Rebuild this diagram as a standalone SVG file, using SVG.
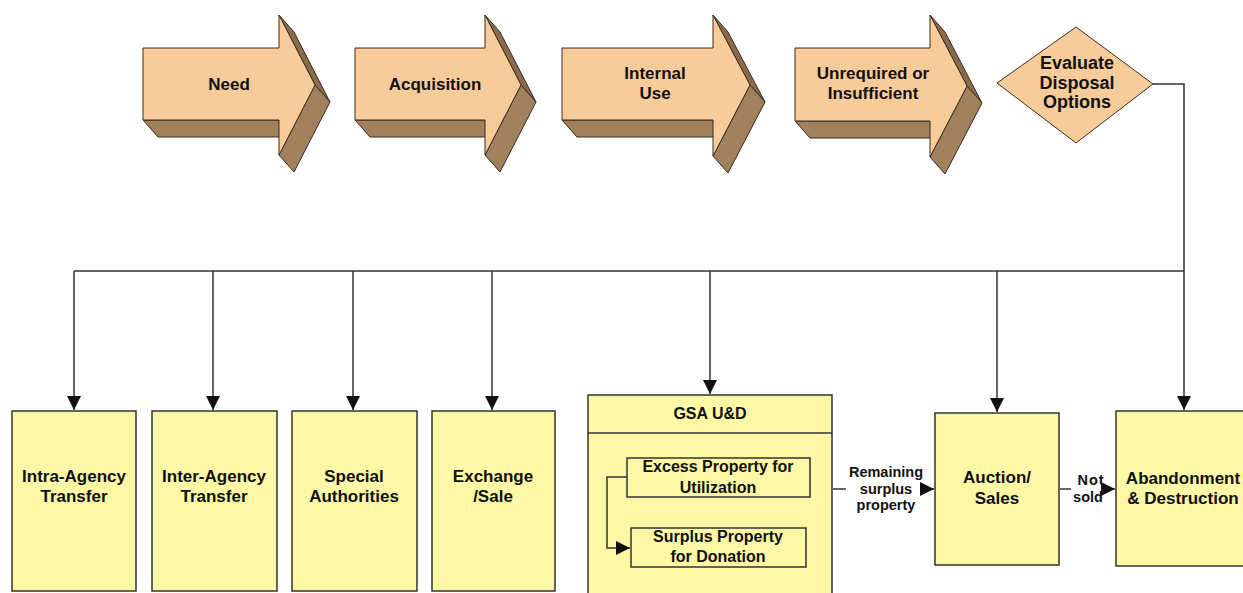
<svg xmlns="http://www.w3.org/2000/svg" width="1243" height="593" viewBox="0 0 1243 593">
<defs>
<style>
.front{fill:#F8CB9B;stroke:#3a2c1e;stroke-width:1}
.side{fill:#A0805D;stroke:#3a2c1e;stroke-width:1}
.sliver{fill:#8A6A4A;stroke:#3a2c1e;stroke-width:1}
.box{fill:#FCF8A6;stroke:#333;stroke-width:1.5}
.t{font-family:"Liberation Sans",Arial,sans-serif;font-weight:bold;font-size:17px;fill:#111;text-anchor:middle}
.d{font-size:18px}
.s{font-size:16px}
.xs{font-size:14.5px}
.ln{fill:none;stroke:#333;stroke-width:1.5}
</style>
<marker id="ahb" viewBox="0 0 10 10" refX="10" refY="5" markerWidth="14" markerHeight="14" markerUnits="userSpaceOnUse" orient="auto">
<path d="M0,0 L10,5 L0,10 z" fill="#111"/>
</marker>
</defs>
<rect width="1243" height="593" fill="#fff"/>

<g id="need">
<polygon class="side" points="143,120 279,120 294,137 158,137"/>
<polygon class="sliver" points="279,15 315,85 330,102 294,32"/>
<polygon class="side" points="315,85 279,155 294,172 330,102"/>
<polygon class="front" points="143,48 279,48 279,15 315,85 279,155 279,120 143,120"/>
<text class="t" x="229" y="90">Need</text>
</g>

<g id="acquisition">
<polygon class="side" points="355,120 485,120 500,137 370,137"/>
<polygon class="sliver" points="485,15 521,85 536,102 500,32"/>
<polygon class="side" points="521,85 485,155 500,172 536,102"/>
<polygon class="front" points="355,48 485,48 485,15 521,85 485,155 485,120 355,120"/>
<text class="t" x="435" y="90">Acquisition</text>
</g>

<g id="internal-use">
<polygon class="side" points="562,120 713,120 728,137 577,137"/>
<polygon class="sliver" points="713,15 750,85 765,102 728,32"/>
<polygon class="side" points="750,85 713,156 728,173 765,102"/>
<polygon class="front" points="562,48 713,48 713,15 750,85 713,156 713,120 562,120"/>
<text class="t" x="655" y="79">Internal</text>
<text class="t" x="655" y="99">Use</text>
</g>

<g id="unrequired">
<polygon class="side" points="795,121 930,121 945,138 810,138"/>
<polygon class="sliver" points="930,15 967,86 982,103 945,32"/>
<polygon class="side" points="967,86 930,157 945,174 982,103"/>
<polygon class="front" points="795,48 930,48 930,15 967,86 930,157 930,121 795,121"/>
<text class="t" x="873" y="79">Unrequired or</text>
<text class="t" x="873" y="99">Insufficient</text>
</g>

<g id="evaluate">
<polygon class="front" points="997,83 1076,27 1153,84 1076,143"/>
<text class="t d" x="1077" y="69">Evaluate</text>
<text class="t d" x="1077" y="89">Disposal</text>
<text class="t d" x="1077" y="108">Options</text>
</g>

<g id="intra-agency">
<rect class="box" x="12" y="411" width="124" height="180"/>
<text class="t" x="74" y="482">Intra-Agency</text>
<text class="t" x="74" y="502">Transfer</text>
</g>
<g id="inter-agency">
<rect class="box" x="152" y="411" width="125" height="180"/>
<text class="t" x="214" y="482">Inter-Agency</text>
<text class="t" x="214" y="502">Transfer</text>
</g>
<g id="special">
<rect class="box" x="292" y="411" width="125" height="180"/>
<text class="t" x="354" y="482">Special</text>
<text class="t" x="354" y="502">Authorities</text>
</g>
<g id="exchange">
<rect class="box" x="432" y="411" width="123" height="180"/>
<text class="t" x="493" y="482">Exchange</text>
<text class="t" x="493" y="502">/Sale</text>
</g>
<g id="gsa">
<rect class="box" x="588" y="395" width="244" height="210"/>
<line class="ln" x1="588" y1="433" x2="832" y2="433"/>
<text class="t s" x="710" y="419">GSA U&amp;D</text>
</g>
<g id="excess">
<rect class="box" x="627" y="458" width="183" height="39"/>
<text class="t s" x="718" y="472">Excess Property for</text>
<text class="t s" x="718" y="493">Utilization</text>
</g>
<g id="surplus">
<rect class="box" x="631" y="528" width="175" height="39"/>
<text class="t s" x="718" y="542">Surplus Property</text>
<text class="t s" x="718" y="562">for Donation</text>
</g>
<g id="auction">
<rect class="box" x="935" y="413" width="124" height="152"/>
<text class="t" x="997" y="483">Auction/</text>
<text class="t" x="997" y="504">Sales</text>
</g>
<g id="abandonment">
<rect class="box" x="1116" y="411" width="135" height="155"/>
<text class="t" x="1183" y="484">Abandonment</text>
<text class="t" x="1183" y="504">&amp; Destruction</text>
</g>

<g id="connectors">
<polyline class="ln" points="1153,84 1184,84 1184,271"/>
<line class="ln" x1="74" y1="271" x2="1184" y2="271"/>
<line class="ln" x1="74" y1="271" x2="74" y2="410" marker-end="url(#ahb)"/>
<line class="ln" x1="213" y1="271" x2="213" y2="410" marker-end="url(#ahb)"/>
<line class="ln" x1="353" y1="271" x2="353" y2="410" marker-end="url(#ahb)"/>
<line class="ln" x1="492" y1="271" x2="492" y2="410" marker-end="url(#ahb)"/>
<line class="ln" x1="710" y1="271" x2="710" y2="394" marker-end="url(#ahb)"/>
<line class="ln" x1="997" y1="271" x2="997" y2="412" marker-end="url(#ahb)"/>
<line class="ln" x1="1184" y1="271" x2="1184" y2="410" marker-end="url(#ahb)"/>
<polyline class="ln" points="627,477 607,477 607,548 630,548" marker-end="url(#ahb)"/>
<line class="ln" x1="833" y1="489" x2="846" y2="489"/>
<line class="ln" x1="922" y1="489" x2="934" y2="489" marker-end="url(#ahb)"/>
<line class="ln" x1="1060" y1="489" x2="1071" y2="489"/>
<line class="ln" x1="1102" y1="489" x2="1115" y2="489" marker-end="url(#ahb)"/>
<text class="t xs" x="886" y="477">Remaining</text>
<text class="t xs" x="886" y="494">surplus</text>
<text class="t xs" x="886" y="510">property</text>
<text class="t xs" x="1091" y="485" letter-spacing="1">Not</text>
<text class="t xs" x="1088" y="502">sold</text>
</g>
</svg>
